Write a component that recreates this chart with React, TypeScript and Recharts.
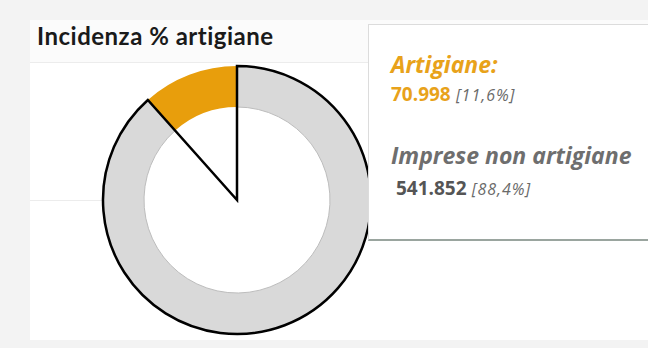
import React from 'react';
import { PieChart, Pie, Cell } from 'recharts';

const categories = ['Artigiane', 'Imprese non artigiane'];
const values = [70998, 541852];
const valueLabels = ['70.998', '541.852'];
const percentLabels = ['11,6%', '88,4%'];
const sliceColors = ['#E89E0C', '#D9D9D9'];

const chartData = categories.map((name, i) => ({ name, value: values[i] }));

const W = 648;
const H = 348;

const App: React.FC = () => {
    return (
        <div style={{ position: 'fixed', left: 0, top: 0, width: W, height: H, background: '#f3f3f3', overflow: 'hidden' }}>
            {/* white panel */}
            <div style={{ position: 'absolute', left: 30, top: 20, width: W - 30, height: 320, background: '#ffffff' }} />
            <div style={{ position: 'absolute', left: 30, top: 20, width: W - 30, height: 42, background: '#fbfbfb', borderBottom: '1px solid #ececec' }} />
            <div style={{ position: 'absolute', left: 30, top: 200, width: 80, height: 1, background: '#ececec' }} />
            <div
                style={{
                    position: 'absolute', left: 37, top: 21, whiteSpace: 'nowrap',
                    fontFamily: 'Lato, sans-serif', fontWeight: 700, fontSize: 24, letterSpacing: 0.5, color: '#1a1a1a',
                }}
            >
                Incidenza % artigiane
            </div>

            <div style={{ position: 'absolute', left: 0, top: 0 }}>
                <PieChart width={W} height={H} margin={{ top: 0, right: 0, bottom: 0, left: 0 }}>
                    <Pie
                        data={chartData}
                        dataKey="value"
                        nameKey="name"
                        cx={237}
                        cy={200}
                        innerRadius={93}
                        outerRadius={134}
                        startAngle={90}
                        endAngle={450}
                        isAnimationActive={false}
                    >
                        {chartData.map((entry, index) => (
                            <Cell
                                key={`ring-${index}`}
                                fill={sliceColors[index]}
                                stroke={index === 1 ? '#bdbdbd' : 'none'}
                                strokeWidth={1}
                            />
                        ))}
                    </Pie>
                    {/* outline of the highlighted slice, drawn from the centre */}
                    <Pie
                        data={chartData}
                        dataKey="value"
                        nameKey="name"
                        cx={237}
                        cy={200}
                        innerRadius={0}
                        outerRadius={134}
                        startAngle={90}
                        endAngle={450}
                        fill="none"
                        isAnimationActive={false}
                    >
                        {chartData.map((entry, index) => (
                            <Cell
                                key={`outline-${index}`}
                                fill="none"
                                stroke={index === 1 ? '#000000' : 'none'}
                                strokeWidth={2.5}
                            />
                        ))}
                    </Pie>
                </PieChart>
            </div>

            {/* tooltip box */}
            <div
                style={{
                    position: 'absolute', left: 368, top: 24, width: 300, height: 217,
                    background: '#ffffff', border: '1px solid #dcdcdc', borderBottom: '2px solid #9aa59f',
                    boxSizing: 'border-box', zIndex: 2,
                }}
            >
                <div style={{ position: 'absolute', left: 22, top: 23, fontFamily: '"Open Sans", sans-serif', fontStyle: 'italic', fontWeight: 700, fontSize: 23, color: '#E8A21A', whiteSpace: 'nowrap' }}>
                    {categories[0]}:
                </div>
                <div style={{ position: 'absolute', left: 22, top: 56, fontFamily: '"Open Sans", sans-serif', whiteSpace: 'nowrap' }}>
                    <span style={{ fontWeight: 700, fontSize: 19, color: '#E8A21A' }}>{valueLabels[0]}</span>
                    <span style={{ fontStyle: 'italic', fontSize: 16, letterSpacing: 1, color: '#6a6a6a' }}> [{percentLabels[0]}]</span>
                </div>
                <div style={{ position: 'absolute', left: 22, top: 114, fontFamily: '"Open Sans", sans-serif', fontStyle: 'italic', fontWeight: 700, fontSize: 23, color: '#6e6e6e', whiteSpace: 'nowrap' }}>
                    {categories[1]}
                </div>
                <div style={{ position: 'absolute', left: 27, top: 150, fontFamily: '"Open Sans", sans-serif', whiteSpace: 'nowrap' }}>
                    <span style={{ fontWeight: 700, fontSize: 19, color: '#555555' }}>{valueLabels[1]}</span>
                    <span style={{ fontStyle: 'italic', fontSize: 16, letterSpacing: 1, color: '#6a6a6a' }}> [{percentLabels[1]}]</span>
                </div>
            </div>
        </div>
    );
};

export default App;
